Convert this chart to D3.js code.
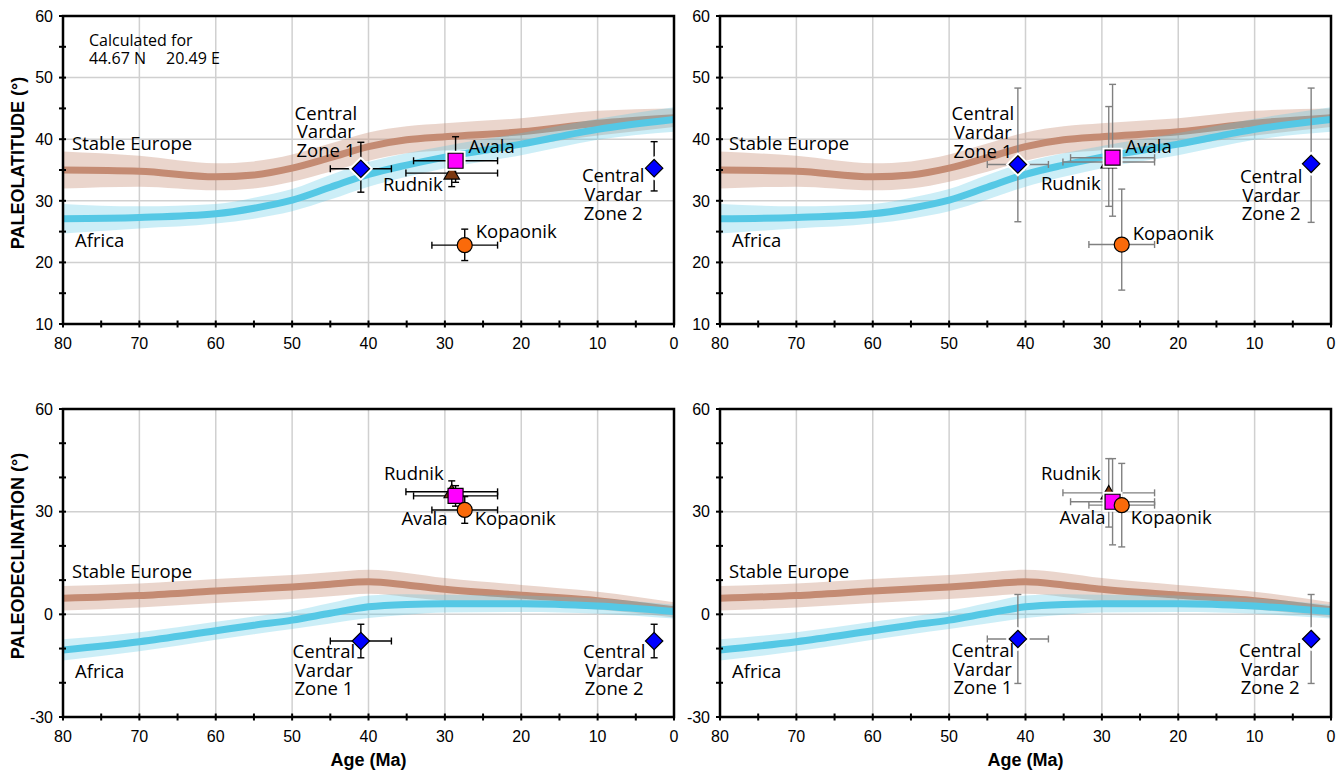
<!DOCTYPE html>
<html>
<head>
<meta charset="utf-8">
<script src="https://cdn.jsdelivr.net/npm/d3@7"></script>
<style>
  body { margin: 0; background: #fff; }
  svg { display: block; }
</style>
</head>
<body>
<svg id="chart"></svg>
<script>
// reference curves, ages in Ma
let ages = [80, 70, 60, 55, 50, 45, 40, 35, 30, 20, 10, 0];
let europeLat = [35.0, 34.8, 33.9, 34.2, 35.3, 37.0, 38.8, 39.9, 40.4, 41.2, 42.6, 43.5];
let europeLatErr = [3.0, 2.5, 2.2, 2.2, 2.2, 2.3, 2.3, 2.2, 2.2, 2.2, 2.0, 1.5];
let africaLat = [27.1, 27.3, 27.9, 28.8, 30.1, 32.2, 34.3, 35.8, 37.1, 39.2, 41.6, 43.2];
let africaLatErr = [2.4, 1.8, 1.6, 1.7, 1.8, 2.0, 2.0, 1.9, 1.8, 1.8, 1.7, 2.0];
let europeDec = [4.7, 5.5, 6.8, 7.4, 8.0, 8.8, 9.5, 8.6, 7.3, 5.6, 4.0, 1.3];
let europeDecErr = [3.6, 3.5, 3.5, 3.5, 3.5, 3.5, 3.5, 3.5, 3.3, 3.0, 2.6, 2.2];
let africaDec = [-10.4, -8.0, -4.8, -3.2, -1.7, 0.3, 2.2, 2.9, 3.1, 3.1, 2.4, 0.8];
let africaDecErr = [3.1, 2.8, 2.6, 2.6, 2.6, 3.0, 3.3, 3.0, 2.6, 2.4, 2.2, 2.0];

// sites
let sites = ["Central Vardar Zone 1", "Avala", "Rudnik", "Kopaonik", "Central Vardar Zone 2"];
let siteLabels = [["Central", "Vardar", "Zone 1"], ["Avala"], ["Rudnik"], ["Kopaonik"], ["Central", "Vardar", "Zone 2"]];
let siteAge = [41.0, 28.6, 29.1, 27.4, 2.6];
let siteAgeErr = [4.0, 5.5, 6.0, 4.3, 0];
let latLeft = [35.2, 36.5, 34.5, 22.8, 35.3];
let latLeftErrUp = [4.3, 3.9, 2.4, 2.6, 4.3];
let latLeftErrDown = [3.8, 3.5, 2.2, 2.5, 3.7];
let latRight = [35.9, 37.0, 36.3, 22.9, 36.0];
let latRightErrUp = [12.4, 11.9, 9.0, 9.0, 12.3];
let latRightErrDown = [9.3, 9.5, 7.2, 7.4, 9.5];
let decLeft = [-7.8, 34.6, 35.8, 30.5, -7.8];
let decLeftErr = [4.9, 3.0, 3.2, 3.9, 4.9];
let decRight = [-7.2, 32.9, 35.5, 31.9, -7.2];
let decRightErr = [13.0, 12.6, 10.0, 12.2, 13.0];

let ageTicks = [80, 70, 60, 50, 40, 30, 20, 10, 0];
let latTicks = [10, 20, 30, 40, 50, 60];
let decTicks = [-30, 0, 30, 60];

let shapes = ["diamond", "square", "triangle", "circle", "diamond"];
let fills = ["#0000ff", "#ff00ff", "#7b3810", "#fa6a0a", "#0000ff"];
let drawOrder = [0, 4, 2, 1, 3];

let W = 1342, H = 774;
let svg = d3.select("#chart").attr("width", W).attr("height", H);

let panels = [
  { x0: 63, x1: 674, y0: 16, y1: 324, dom: [10, 60], major: latTicks, minorStep: 5,
    ref: [europeLat, europeLatErr, africaLat, africaLatErr], val: latLeft, up: latLeftErrUp, down: latLeftErrDown,
    errColor: "#000", halo: true, eurLab: 38.2, afrLab: 22.5, ytitle: "PALEOLATITUDE (°)", xtitle: false,
    labs: [[-35, -49, "middle"], [13, -8, "start"], [-9, 18, "end"], [11, -7, "start"], [-41, 14, "middle"]] },
  { x0: 720, x1: 1331, y0: 16, y1: 324, dom: [10, 60], major: latTicks, minorStep: 5,
    ref: [europeLat, europeLatErr, africaLat, africaLatErr], val: latRight, up: latRightErrUp, down: latRightErrDown,
    errColor: "#808080", halo: true, eurLab: 38.2, afrLab: 22.5, ytitle: null, xtitle: false,
    labs: [[-35, -44, "middle"], [13, -5, "start"], [-8, 28, "end"], [11, -5, "start"], [-40, 19, "middle"]] },
  { x0: 63, x1: 674, y0: 409, y1: 717, dom: [-30, 60], major: decTicks, minorStep: 10,
    ref: [europeDec, europeDecErr, africaDec, africaDecErr], val: decLeft, up: decLeftErr, down: decLeftErr,
    errColor: "#000", halo: false, eurLab: 10.6, afrLab: -18.7, ytitle: "PALEODECLINATION (°)", xtitle: true,
    labs: [[-37, 17, "middle"], [-8, 29, "end"], [-8, -12, "end"], [10, 15, "start"], [-40, 17, "middle"]] },
  { x0: 720, x1: 1331, y0: 409, y1: 717, dom: [-30, 60], major: decTicks, minorStep: 10,
    ref: [europeDec, europeDecErr, africaDec, africaDecErr], val: decRight, up: decRightErr, down: decRightErr,
    errColor: "#808080", halo: true, eurLab: 10.6, afrLab: -18.7, ytitle: null, xtitle: true,
    labs: [[-35, 18, "middle"], [-7, 22, "end"], [-8, -13, "end"], [9, 19, "start"], [-41, 18, "middle"]] }
];

function markerPath(shape, s) {
  let h = s / 2;
  if (shape === "diamond") { h = s * 0.58; return `M0,${-h}L${h},0L0,${h}L${-h},0Z`; }
  if (shape === "square") return `M${-h},${-h}H${h}V${h}H${-h}Z`;
  if (shape === "triangle") return `M0,${-h * 1.05}L${h * 1.1},${h * 0.85}L${-h * 1.1},${h * 0.85}Z`;
  return `M${h},0A${h},${h} 0 1,1 ${-h},0A${h},${h} 0 1,1 ${h},0Z`;
}

let sansFont = "'Open Sans', 'Noto Sans', sans-serif";
let axisFont = "'Liberation Sans', Arial, sans-serif";

panels.forEach(p => {
  let x = d3.scaleLinear().domain([80, 0]).range([p.x0, p.x1]);
  let y = d3.scaleLinear().domain(p.dom).range([p.y1, p.y0]);
  let g = svg.append("g");

  // grid
  g.selectAll(".vg").data(ageTicks.filter(d => d !== 80 && d !== 0)).enter().append("line")
    .attr("x1", d => x(d)).attr("x2", d => x(d)).attr("y1", p.y0).attr("y2", p.y1)
    .attr("stroke", "#d0d0d0").attr("stroke-width", 1.5);
  g.selectAll(".hg").data(p.major.slice(1, -1)).enter().append("line")
    .attr("x1", p.x0).attr("x2", p.x1).attr("y1", d => y(d)).attr("y2", d => y(d))
    .attr("stroke", "#d0d0d0").attr("stroke-width", 1.5);

  // reference curves
  let [eV, eE, aV, aE] = p.ref;
  let band = (v, e) => d3.area().curve(d3.curveMonotoneX)
    .x((d, i) => x(ages[i])).y0((d, i) => y(v[i] - e[i])).y1((d, i) => y(v[i] + e[i]))(ages);
  let line = v => d3.line().curve(d3.curveMonotoneX).x((d, i) => x(ages[i])).y((d, i) => y(v[i]))(ages);

  let clipId = "clip" + p.x0 + "_" + p.y0;
  svg.append("clipPath").attr("id", clipId).append("rect")
    .attr("x", p.x0).attr("y", p.y0).attr("width", p.x1 - p.x0).attr("height", p.y1 - p.y0);
  let cg = g.append("g").attr("clip-path", `url(#${clipId})`);
  cg.append("path").attr("d", band(eV, eE)).attr("fill", "#c48b73").attr("opacity", 0.36);
  cg.append("path").attr("d", line(eV)).attr("fill", "none").attr("stroke", "#c48b73").attr("stroke-width", 7);
  cg.append("path").attr("d", band(aV, aE)).attr("fill", "#55c8e5").attr("opacity", 0.3);
  cg.append("path").attr("d", line(aV)).attr("fill", "none").attr("stroke", "#55c8e5").attr("stroke-width", 7);

  // frame
  g.append("rect").attr("x", p.x0).attr("y", p.y0).attr("width", p.x1 - p.x0).attr("height", p.y1 - p.y0)
    .attr("fill", "none").attr("stroke", "#000").attr("stroke-width", 2.5);

  // ticks
  let xt = d3.range(80, -1, -5);
  g.selectAll(".xt").data(xt).enter().append("line")
    .attr("x1", d => x(d)).attr("x2", d => x(d)).attr("y1", p.y1 - 3.5).attr("y2", p.y1 + 3.5)
    .attr("stroke", "#000").attr("stroke-width", 2);
  let yt = d3.range(p.dom[0], p.dom[1] + 0.1, p.minorStep);
  g.selectAll(".yt").data(yt).enter().append("line")
    .attr("x1", p.x0 - 4).attr("x2", p.x0 + 3).attr("y1", d => y(d)).attr("y2", d => y(d))
    .attr("stroke", "#000").attr("stroke-width", 2);

  g.selectAll(".xl").data(ageTicks).enter().append("text")
    .attr("x", d => x(d)).attr("y", p.y1 + 25).attr("text-anchor", "middle")
    .attr("font-family", axisFont).attr("font-size", 16).text(d => d);
  g.selectAll(".yl").data(p.major).enter().append("text")
    .attr("x", p.x0 - 10).attr("y", d => y(d)).attr("dy", "0.36em").attr("text-anchor", "end")
    .attr("font-family", axisFont).attr("font-size", 16).text(d => d);

  // curve labels
  g.append("text").attr("x", p.x0 + 9).attr("y", y(p.eurLab))
    .attr("font-family", sansFont).attr("font-size", 18.5).text("Stable Europe");
  g.append("text").attr("x", p.x0 + 12).attr("y", y(p.afrLab))
    .attr("font-family", sansFont).attr("font-size", 18.5).text("Africa");

  // error bars
  let cap = 3.5;
  drawOrder.forEach(i => {
    let cx = x(siteAge[i]), cy = y(p.val[i]);
    let eg = g.append("g").attr("stroke", p.errColor).attr("stroke-width", 1.4);
    let top = y(p.val[i] + p.up[i]), bot = y(p.val[i] - p.down[i]);
    eg.append("line").attr("x1", cx).attr("x2", cx).attr("y1", top).attr("y2", bot);
    eg.append("line").attr("x1", cx - cap).attr("x2", cx + cap).attr("y1", top).attr("y2", top);
    eg.append("line").attr("x1", cx - cap).attr("x2", cx + cap).attr("y1", bot).attr("y2", bot);
    if (siteAgeErr[i] > 0) {
      let l = x(siteAge[i] + siteAgeErr[i]), r = x(siteAge[i] - siteAgeErr[i]);
      eg.append("line").attr("x1", l).attr("x2", r).attr("y1", cy).attr("y2", cy);
      eg.append("line").attr("x1", l).attr("x2", l).attr("y1", cy - cap).attr("y2", cy + cap);
      eg.append("line").attr("x1", r).attr("x2", r).attr("y1", cy - cap).attr("y2", cy + cap);
    }
  });

  // markers
  drawOrder.forEach(i => {
    let cx = x(siteAge[i]), cy = y(p.val[i]);
    let d = markerPath(shapes[i], shapes[i] === "triangle" ? 14 : 15);
    let mg = g.append("g").attr("transform", `translate(${cx},${cy})`);
    if (p.halo && (shapes[i] === "diamond" || shapes[i] === "square"))
      mg.append("path").attr("d", d).attr("fill", "none").attr("stroke", "#fff").attr("stroke-width", 5);
    mg.append("path").attr("d", d).attr("fill", fills[i]).attr("stroke", "#000").attr("stroke-width", 1.2);
  });

  // site labels
  siteLabels.forEach((lines, i) => {
    let [dx, dy, anchor] = p.labs[i];
    let cx = x(siteAge[i]), cy = y(p.val[i]);
    let t = g.append("text").attr("font-family", sansFont).attr("font-size", 18.5).attr("text-anchor", anchor);
    lines.forEach((s, k) => {
      t.append("tspan").attr("x", cx + dx).attr("y", cy + dy + k * 18.7).text(s);
    });
  });

  // axis titles
  if (p.ytitle) {
    svg.append("text").attr("transform", `translate(24,${(p.y0 + p.y1) / 2 - 7}) rotate(-90)`)
      .attr("text-anchor", "middle").attr("font-family", axisFont).attr("font-weight", "bold")
      .attr("font-size", 18).text(p.ytitle);
  }
  if (p.xtitle) {
    svg.append("text").attr("x", (p.x0 + p.x1) / 2).attr("y", 766)
      .attr("text-anchor", "middle").attr("font-family", axisFont).attr("font-weight", "bold")
      .attr("font-size", 18).text("Age (Ma)");
  }
});

// location note
let note = svg.append("text").attr("font-family", sansFont).attr("font-size", 16);
note.append("tspan").attr("x", 89).attr("y", 46).text("Calculated for");
note.append("tspan").attr("x", 89).attr("y", 64).text("44.67 N");
note.append("tspan").attr("x", 166).attr("y", 64).text("20.49 E");
</script>
</body>
</html>
